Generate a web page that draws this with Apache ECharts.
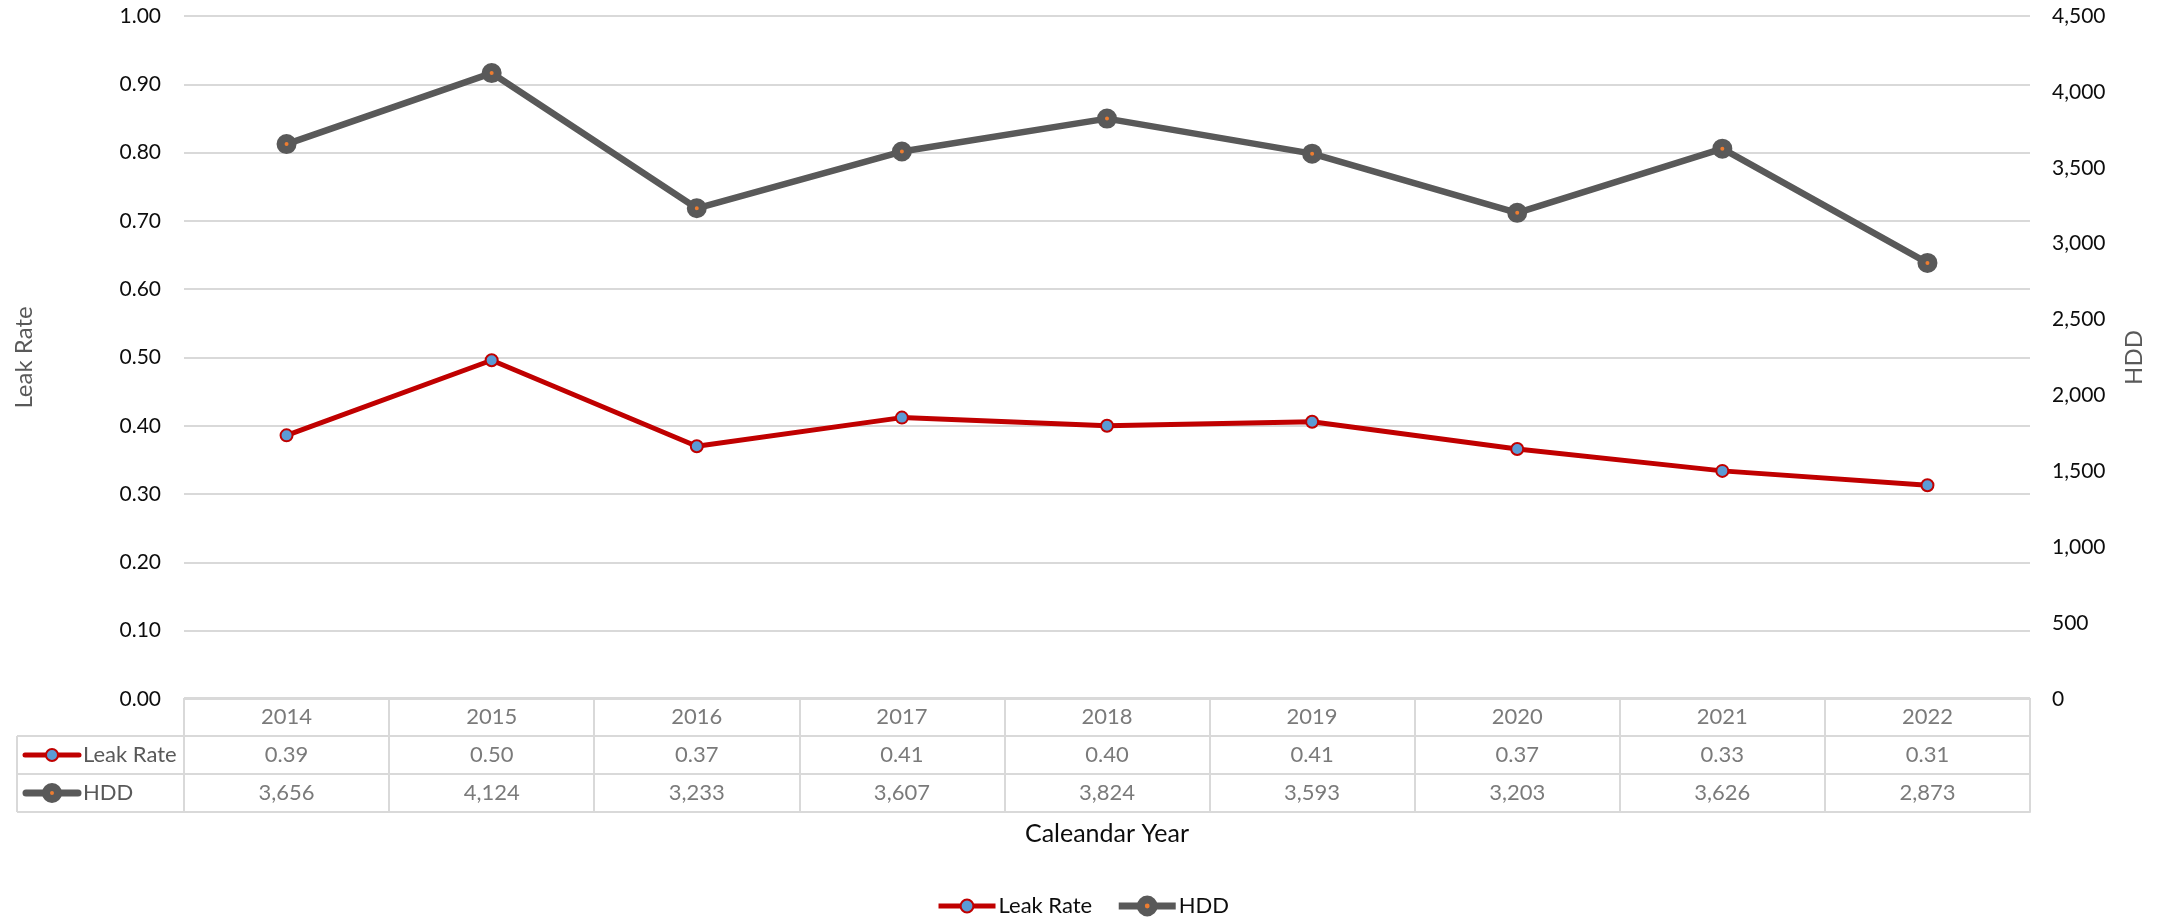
<!DOCTYPE html>
<html>
<head>
<meta charset="utf-8">
<script src="https://cdn.jsdelivr.net/npm/echarts@6/dist/echarts.min.js"></script>
<style>
html,body{margin:0;padding:0;background:#fff;}
#chart{width:2165px;height:917px;}
</style>
</head>
<body>
<div id="chart"></div>
<script>
// ---- data ----
const years = ['2014','2015','2016','2017','2018','2019','2020','2021','2022'];
const leakRate = [0.386, 0.496, 0.370, 0.412, 0.400, 0.406, 0.366, 0.334, 0.313];
const hdd = [3656, 4124, 3233, 3607, 3824, 3593, 3203, 3626, 2873];
const seriesNames = ['Leak Rate', 'HDD'];
const leftTicks = {min: 0, max: 1, interval: 0.1};
const rightTicks = {min: 0, max: 4500, interval: 500};
const xTitle = 'Caleandar Year';

// ---- helpers ----
function fmtComma(v){ return String(Math.round(v)).replace(/\B(?=(\d{3})+(?!\d))/g, ','); }
function fmtRate(v){ return v.toFixed(2); }

const FONT = 'Lato';
const GRID_L = 184, GRID_R = 135;
const BORDER = '#d9d9d9';
const TXT_GRAY = '#595959';
const RED = '#C00000', BLUE = '#5B9BD5', GRAY = '#595959', ORANGE = '#ED7D31';

// table cells built from arrays
const tableCells = [];
years.forEach((y, i) => {
  tableCells.push([i, 0, y]);
  tableCells.push([i, 1, fmtRate(leakRate[i])]);
  tableCells.push([i, 2, fmtComma(hdd[i])]);
});

const chart = echarts.init(document.getElementById('chart'), null, {renderer: 'canvas'});

const option = {
  animation: false,
  backgroundColor: '#ffffff',
  textStyle: {fontFamily: FONT},
  grid: [
    {left: GRID_L, right: GRID_R, top: 16, height: 683},
    {left: GRID_L, right: GRID_R, top: 698, height: 114},
    {left: 17, width: GRID_L - 17, top: 736, height: 76}
  ],
  legend: {
    data: [
      {name: seriesNames[0], itemStyle: {color: BLUE, borderColor: RED, borderWidth: 2}, lineStyle: {color: RED, width: 5}},
      {name: seriesNames[1], itemStyle: {color: ORANGE, borderColor: GRAY, borderWidth: 8}, lineStyle: {color: GRAY, width: 7}}
    ],
    top: 890,
    left: 'center',
    itemWidth: 57,
    itemHeight: 16,
    itemGap: 23,
    textStyle: {fontFamily: FONT, fontSize: 22, color: '#0d0d0d', padding: [0,0,0,-2]},
    selectedMode: false
  },
  xAxis: [
    {
      gridIndex: 0, type: 'category', data: years, boundaryGap: true,
      axisLine: {show: false}, axisTick: {show: false}, axisLabel: {show: false},
      splitLine: {show: false}
    },
    {
      gridIndex: 1, type: 'category', data: years, boundaryGap: true,
      axisLine: {show: true, lineStyle: {color: BORDER, width: 2}},
      axisTick: {show: false}, axisLabel: {show: false},
      splitLine: {show: true, lineStyle: {color: BORDER, width: 2}},
      name: xTitle, nameLocation: 'middle', nameGap: 22,
      nameTextStyle: {fontFamily: FONT, fontSize: 25, color: '#0d0d0d', verticalAlign: 'middle'}
    },
    {
      gridIndex: 2, type: 'category', data: [''], boundaryGap: true,
      axisLine: {show: false}, axisTick: {show: false}, axisLabel: {show: false},
      splitLine: {show: true, lineStyle: {color: BORDER, width: 2}}
    }
  ],
  yAxis: [
    {
      gridIndex: 0, type: 'value', position: 'left',
      min: leftTicks.min, max: leftTicks.max, interval: leftTicks.interval,
      axisLine: {show: false}, axisTick: {show: false},
      axisLabel: {formatter: v => v.toFixed(2), color: '#0d0d0d', fontSize: 21, margin: 23, fontFamily: FONT},
      splitLine: {show: true, lineStyle: {color: BORDER, width: 2}},
      name: seriesNames[0], nameLocation: 'middle', nameRotate: 90, nameGap: 148,
      nameTextStyle: {fontFamily: FONT, fontSize: 24, color: TXT_GRAY}
    },
    {
      gridIndex: 0, type: 'value', position: 'right',
      min: rightTicks.min, max: rightTicks.max, interval: rightTicks.interval,
      axisLine: {show: false}, axisTick: {show: false},
      axisLabel: {formatter: v => fmtComma(v), color: '#0d0d0d', fontSize: 21, margin: 22, fontFamily: FONT},
      splitLine: {show: false},
      name: seriesNames[1], nameLocation: 'middle', nameRotate: 90, nameGap: 92,
      nameTextStyle: {fontFamily: FONT, fontSize: 24, color: TXT_GRAY}
    },
    {
      gridIndex: 1, type: 'category', data: ['', seriesNames[0], seriesNames[1]], inverse: true,
      axisLine: {show: false}, axisTick: {show: false}, axisLabel: {show: false},
      splitLine: {show: true, lineStyle: {color: BORDER, width: 2}}
    },
    {
      gridIndex: 2, type: 'category', data: seriesNames, inverse: true,
      axisLine: {show: false}, axisTick: {show: false},
      axisLabel: {show: true, inside: true, margin: 66, color: TXT_GRAY, fontSize: 22, fontFamily: FONT, align: 'left'},
      splitLine: {show: true, lineStyle: {color: BORDER, width: 2}}
    }
  ],
  series: [
    {
      name: seriesNames[0], type: 'line', xAxisIndex: 0, yAxisIndex: 0,
      data: leakRate,
      lineStyle: {color: RED, width: 5},
      symbol: 'circle', symbolSize: 12,
      itemStyle: {color: BLUE, borderColor: RED, borderWidth: 2},
      z: 3
    },
    {
      name: seriesNames[1], type: 'line', xAxisIndex: 0, yAxisIndex: 1,
      data: hdd,
      lineStyle: {color: GRAY, width: 6.5},
      symbol: 'circle', symbolSize: 12,
      itemStyle: {color: ORANGE, borderColor: GRAY, borderWidth: 8},
      z: 2
    },
    {
      name: 'table', type: 'scatter', xAxisIndex: 1, yAxisIndex: 2,
      data: tableCells, symbolSize: 1, silent: true,
      itemStyle: {color: 'transparent'},
      label: {
        show: true, position: 'inside', formatter: p => p.value[2],
        color: TXT_GRAY, fontSize: 22, fontFamily: FONT
      }
    }
  ],
  graphic: [
    // row icons in the table's left column (decoration)
    {type: 'line', shape: {x1: 25, y1: 755, x2: 79, y2: 755}, style: {stroke: RED, lineWidth: 5, lineCap: 'round'}},
    {type: 'circle', shape: {cx: 52, cy: 755, r: 6}, style: {fill: BLUE, stroke: RED, lineWidth: 2}},
    {type: 'line', shape: {x1: 26, y1: 793, x2: 78, y2: 793}, style: {stroke: GRAY, lineWidth: 7, lineCap: 'round'}},
    {type: 'circle', shape: {cx: 52, cy: 793, r: 6}, style: {fill: ORANGE, stroke: GRAY, lineWidth: 8}}
  ]
};

chart.setOption(option);
</script>
</body>
</html>
